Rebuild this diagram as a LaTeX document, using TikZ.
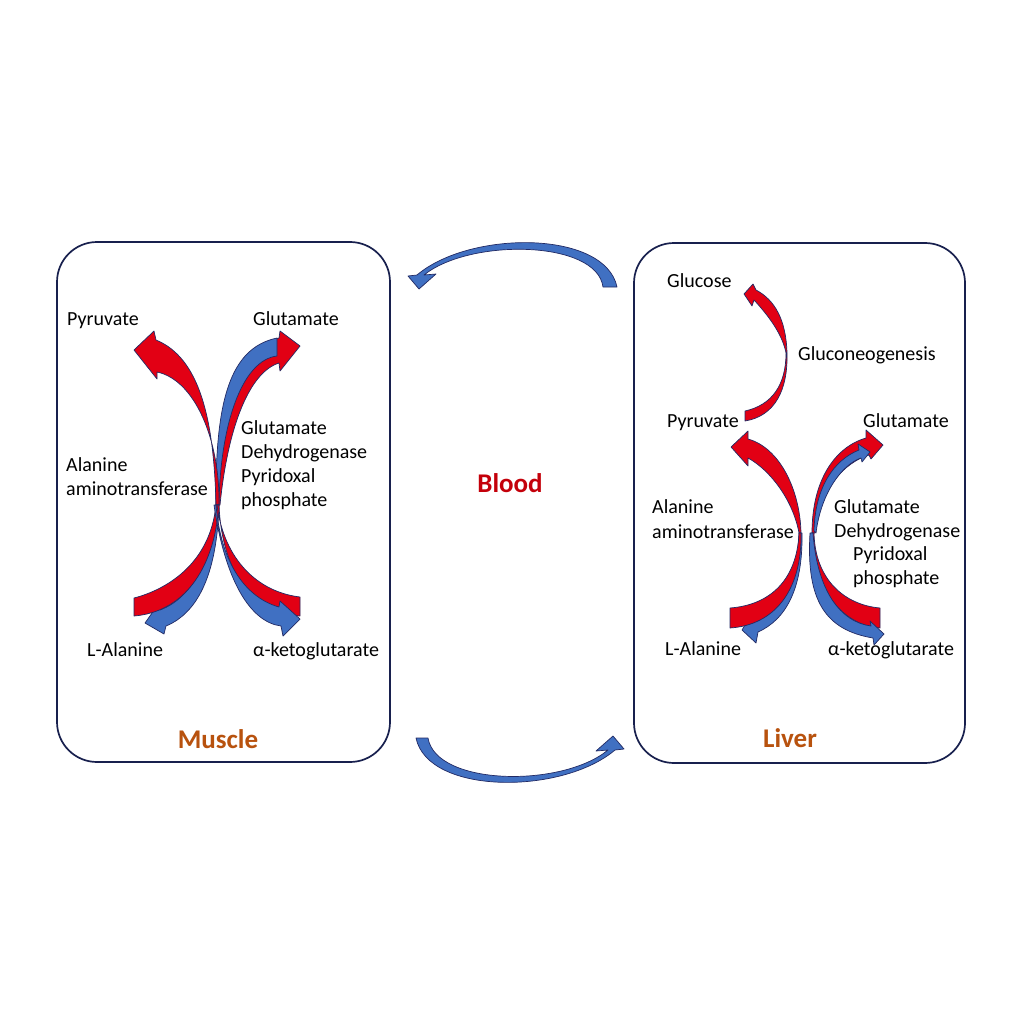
\documentclass[tikz,border=0pt]{standalone}
\usepackage{fontspec}
\setmainfont{Carlito}
\definecolor{aRed}{RGB}{226,0,20}
\definecolor{aBlue}{RGB}{64,112,194}
\definecolor{aEdge}{RGB}{34,42,100}
\definecolor{boxEdge}{RGB}{24,32,78}
\definecolor{orgLbl}{RGB}{184,82,14}
\definecolor{bloodLbl}{RGB}{196,0,10}
\tikzset{
  lbl/.style={inner sep=0pt, anchor=base west, font=\fontsize{20}{24}\selectfont},
  organ/.style={inner sep=0pt, anchor=base, text=orgLbl, font=\fontsize{27}{31}\selectfont\bfseries},
  cell/.style={draw=boxEdge, line width=1.7pt, rounded corners=40pt},
  redarr/.style={fill=aRed, draw=aEdge, line width=0.7pt, line join=round},
  bluearr/.style={fill=aBlue, draw=aEdge, line width=0.7pt, line join=round}
}
\begin{document}
\begin{tikzpicture}[x=1pt,y=-1pt]
\useasboundingbox (0,0) rectangle (1024,1024);
\fill[white] (0,0) rectangle (1024,1024);

% compartments
\draw[cell] (57,242) rectangle (390,762);
\draw[cell] (634,243) rectangle (965,763);

% ---------------- Muscle arrows ----------------
% upper-right: red arrow to Glutamate, blue shaft on it
\draw[redarr] (216,505) .. controls (216,400) and (232,350) .. (279,338) -- (280,331) -- (300,346) -- (280,371) -- (279,363) .. controls (250,372) and (228,425) .. (220,505) -- cycle;
\draw[bluearr] (216,505) .. controls (215,400) and (230,348) .. (277,338) -- (277,356) .. controls (242,360) and (220,425) .. (219,505) -- cycle;
% upper-left: red arrow to Pyruvate
\draw[redarr] (216,505) .. controls (214,420) and (200,358) .. (156,340) -- (154,331) -- (134,350) -- (157,379) -- (157,372) .. controls (195,380) and (220,440) .. (219,505) -- cycle;
% lower-left: blue arrow to L-Alanine, red band over it
\draw[bluearr] (216,505) .. controls (212,560) and (192,598) .. (160,610) -- (157,606) -- (145,623) -- (164,634) -- (166,626) .. controls (200,612) and (217,570) .. (219,505) -- cycle;
\draw[redarr] (216,505) .. controls (210,565) and (165,590) .. (134,598) -- (134,616) .. controls (182,612) and (214,572) .. (219,505) -- cycle;
% lower-right: red band, blue arrow to alpha-ketoglutarate over it
\draw[redarr] (217,505) .. controls (224,560) and (258,592) .. (300,597) -- (300,616) .. controls (255,614) and (222,575) .. (219,505) -- cycle;
\draw[bluearr] (216,505) .. controls (221,565) and (247,598) .. (279,607) -- (280,601) -- (300,619) -- (283,636) -- (281,626) .. controls (250,622) and (225,580) .. (214,505) -- cycle;

% ---------------- Liver arrows ----------------
% gluconeogenesis arrow
\draw[redarr] (745,421) .. controls (775,416) and (788,390) .. (787,353) .. controls (786,320) and (775,300) .. (756,290) -- (753,284) -- (744,294) -- (752,306) -- (754,300) .. controls (765,312) and (782,332) .. (786,353) .. controls (786,385) and (772,405) .. (745,411) -- cycle;
% left: red arrow to Pyruvate
\draw[redarr] (748,439) .. controls (780,448) and (800,490) .. (801,533) -- (799,533) .. controls (793,500) and (770,470) .. (748,458) -- (748,466) -- (731,447) -- (748,431) -- cycle;
% left lower: blue arrow to L-Alanine, red band over it
\draw[bluearr] (799,533) -- (802,533) .. controls (803,590) and (785,620) .. (758,632) -- (756,643) -- (742,630) -- (751,615) -- (756,620) .. controls (780,612) and (797,585) .. (799,533) -- cycle;
\draw[redarr] (799,533) .. controls (797,580) and (770,605) .. (730,608) -- (730,628) .. controls (775,625) and (802,590) .. (801,533) -- cycle;
% right upper: red arrow to Glutamate with blue inside
\draw[redarr] (812,533) .. controls (812,480) and (835,447) .. (866,438) -- (866,430) -- (883,445) -- (871,459) -- (869,455) .. controls (845,462) and (818,490) .. (815,533) -- cycle;
\draw[bluearr] (814,531) .. controls (815,487) and (834,460) .. (859,450) -- (858,444) -- (870,452) -- (862,462) -- (861,458) .. controls (843,464) and (821,492) .. (816,533) -- cycle;
% right lower: red band, blue arrow to alpha-ketoglutarate over it
\draw[redarr] (814,533) .. controls (815,580) and (845,605) .. (880,608) -- (880,628) .. controls (840,625) and (812,585) .. (811,533) -- cycle;
\draw[bluearr] (813,533) .. controls (817,590) and (840,622) .. (871,626) -- (870,621) -- (884,634) -- (874,645) -- (873,638) .. controls (825,630) and (806,600) .. (810,533) -- cycle;

% ---------------- Blood arrows ----------------
\draw[bluearr] (617,287) .. controls (605,230) and (470,230) .. (417,275) -- (408,276) -- (419,289) -- (436,274) -- (424,275) .. controls (470,238) and (597,240) .. (603,287) -- cycle;
\draw[bluearr] (416,738) .. controls (428,795) and (562,795) .. (615,750) -- (624,749) -- (613,736) -- (596,751) -- (608,750) .. controls (562,788) and (436,786) .. (428,738) -- cycle;

% ---------------- Labels ----------------
\node[lbl] (mPyr) at (67,325) {Pyruvate};
\node[lbl] (mGlu) at (253,325) {Glutamate};
\node[lbl] (mGdh1) at (241,434) {Glutamate};
\node[lbl] (mGdh2) at (241,458) {Dehydrogenase};
\node[lbl] (mGdh3) at (241,482) {Pyridoxal};
\node[lbl] (mGdh4) at (241,506) {phosphate};
\node[lbl] (mAlt1) at (66,471) {Alanine};
\node[lbl] (mAlt2) at (66,495) {aminotransferase};
\node[lbl] (mAla) at (87,656) {L-Alanine};
\node[lbl] (mAkg) at (253,656) {α-ketoglutarate};
\node[organ] (muscle) at (218,748) {Muscle};

\node[organ, text=bloodLbl] (blood) at (510,492) {Blood};

\node[lbl] (lGlc) at (667,287) {Glucose};
\node[lbl] (lGng) at (798,360) {Gluconeogenesis};
\node[lbl] (lPyr) at (667,427) {Pyruvate};
\node[lbl] (lGlu) at (863,427) {Glutamate};
\node[lbl] (lAlt1) at (652,513) {Alanine};
\node[lbl] (lAlt2) at (652,538) {aminotransferase};
\node[lbl] (lGdh1) at (834,513) {Glutamate};
\node[lbl] (lGdh2) at (834,537) {Dehydrogenase};
\node[lbl] (lGdh3) at (853,560) {Pyridoxal};
\node[lbl] (lGdh4) at (853,584) {phosphate};
\node[lbl] (lAla) at (665,655) {L-Alanine};
\node[lbl] (lAkg) at (828,655) {α-ketoglutarate};
\node[organ] (liver) at (790,747) {Liver};
\end{tikzpicture}
\end{document}
